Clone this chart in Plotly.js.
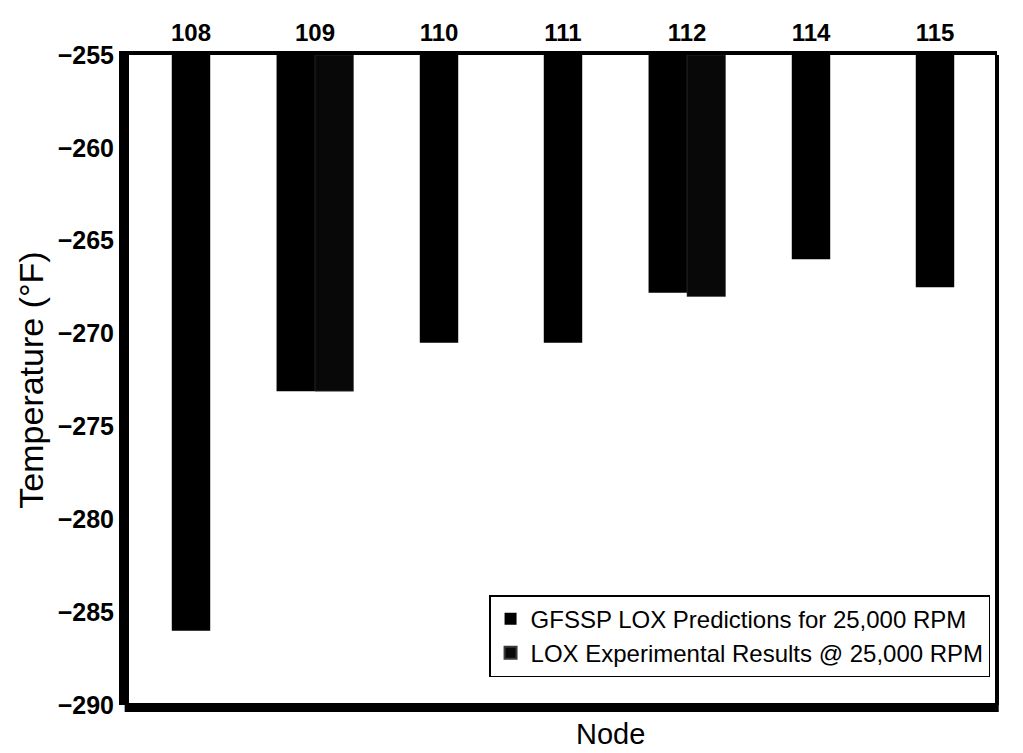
<!DOCTYPE html>
<html>
<head>
<meta charset="utf-8">
<script src="https://cdn.plot.ly/plotly-3.0.1.min.js"></script>
<style>html,body{margin:0;padding:0;background:#fff;}#chart{width:1023px;height:753px;}</style>
</head>
<body>
<div id="chart"></div>
<script>
// Data
const nodes = ['108', '109', '110', '111', '112', '114', '115'];
const gfsspPredictions = [-286.0, -273.1, -270.5, -270.5, -267.8, -266.0, -267.5];
const experimentalResults = [null, -273.1, null, null, -268.0, null, null];
const yTicks = [-290, -285, -280, -275, -270, -265, -260, -255];
const BAR_TOP = -255;   // bars hang down from the top of the axis
const BAR_W = 0.31;

const hasExp = experimentalResults.map(v => v !== null);

const traceGfssp = {
  type: 'bar',
  name: 'GFSSP LOX Predictions for 25,000 RPM',
  x: nodes,
  y: gfsspPredictions.map(v => v - BAR_TOP),
  base: BAR_TOP,
  width: BAR_W,
  offset: hasExp.map(h => h ? -BAR_W : -BAR_W / 2),
  marker: {color: '#000000', line: {width: 0}},
  hoverinfo: 'skip'
};

const traceExp = {
  type: 'bar',
  name: 'LOX Experimental Results @ 25,000 RPM',
  x: nodes,
  y: experimentalResults.map(v => v === null ? null : v - BAR_TOP),
  base: BAR_TOP,
  width: BAR_W,
  offset: 0,
  marker: {color: '#080808', line: {width: 0.6, color: '#3a3a3a'}},
  hoverinfo: 'skip'
};

const FONT = 'Liberation Sans, Arial, Helvetica, sans-serif';

const layout = {
  width: 1023,
  height: 753,
  margin: {l: 129, r: 26, t: 55, b: 48},
  paper_bgcolor: '#ffffff',
  plot_bgcolor: '#ffffff',
  barmode: 'overlay',
  showlegend: true,
  font: {family: FONT, color: '#000'},
  xaxis: {
    type: 'category',
    side: 'top',
    categoryorder: 'array',
    categoryarray: nodes,
    range: [-0.5, nodes.length - 0.5],
    showgrid: false,
    zeroline: false,
    ticks: '',
    showline: true,
    linewidth: 4,
    linecolor: '#000',
    tickfont: {family: FONT, size: 24, color: '#000', weight: 'bold'},
    fixedrange: true
  },
  yaxis: {
    range: [-290, -255],
    tickvals: yTicks,
    ticktext: yTicks.map(v => '\u2212' + Math.abs(v)),
    showgrid: false,
    zeroline: false,
    ticks: '',
    showline: true,
    linewidth: 10,
    linecolor: '#000',
    tickfont: {family: FONT, size: 25, color: '#000', weight: 'bold'},
    title: {text: 'Temperature (°F)', font: {family: FONT, size: 34, color: '#000'}, standoff: 8},
    fixedrange: true
  },
  shapes: [
    {type: 'line', xref: 'paper', yref: 'paper', x0: 1, x1: 1, y0: 0, y1: 1,
     line: {color: '#000', width: 4}},
    {type: 'line', xref: 'paper', yref: 'paper', x0: -0.005, x1: 1.002, y0: -0.004, y1: -0.004,
     line: {color: '#000', width: 9}}
  ],
  annotations: [
    {text: 'Node', xref: 'paper', yref: 'paper', x: 0.555, y: -0.045,
     xanchor: 'center', yanchor: 'middle', showarrow: false,
     font: {family: FONT, size: 29, color: '#000'}}
  ],
  legend: {
    x: 0.992, y: 0.043,
    xanchor: 'right', yanchor: 'bottom',
    bgcolor: '#ffffff',
    bordercolor: '#000',
    borderwidth: 1.5,
    font: {family: FONT, size: 24, color: '#000'},
    tracegroupgap: 0,
    itemwidth: 30,
    itemsizing: 'constant'
  }
};

Plotly.newPlot('chart', [traceGfssp, traceExp], layout, {displayModeBar: false, staticPlot: true});
</script>
</body>
</html>
